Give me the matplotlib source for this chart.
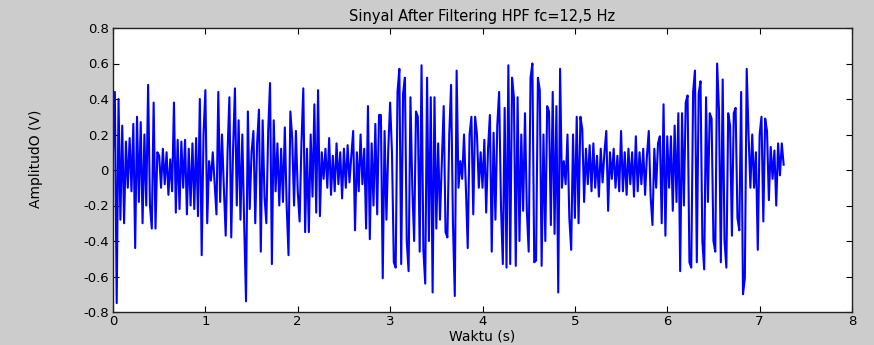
import numpy as np
import matplotlib
matplotlib.use("Agg")
import matplotlib.pyplot as plt
from matplotlib import font_manager

# ---- data (50 Hz samples) ----
dt = 0.02
amp_0 = [0.10, 0.44, -0.75, 0.40, -0.28, 0.25, -0.30, 0.16, -0.10, 0.18,
         -0.12, 0.26, -0.44, 0.30, -0.18, 0.27, -0.30, 0.20, -0.20, 0.48,
         -0.20, -0.33, 0.38, -0.33, 0.10]
amp_1 = [0.08, -0.10, 0.12, -0.08, 0.10, -0.14, 0.06, -0.12, 0.38, -0.24,
         0.17, -0.22, 0.16, -0.10, 0.17, -0.25, 0.12, -0.20, 0.15, -0.22,
         0.18, -0.26, 0.40, -0.48, 0.20]
amp_2 = [0.45, -0.30, 0.05, -0.06, 0.10, -0.08, -0.25, 0.44, -0.18, 0.20,
         -0.10, -0.37, 0.10, 0.41, -0.38, 0.12, 0.46, -0.20, 0.28, -0.28,
         0.20, -0.30, -0.74, 0.33, -0.22]
amp_3 = [0.10, 0.22, -0.30, 0.15, 0.34, -0.46, 0.28, -0.15, -0.30, 0.22,
         0.49, -0.53, 0.28, -0.12, 0.15, -0.20, 0.12, -0.18, 0.24, -0.20,
         -0.48, 0.33, 0.18, -0.20, 0.22]
amp_4 = [-0.12, -0.29, 0.15, 0.46, -0.35, 0.12, -0.35, 0.20, -0.15, 0.37,
         -0.24, 0.45, -0.26, 0.10, -0.05, 0.12, -0.10, 0.18, -0.14, 0.08,
         -0.12, 0.15, -0.08, 0.10, -0.16]
amp_5 = [0.12, -0.10, 0.14, -0.07, 0.08, 0.22, -0.34, 0.10, -0.12, 0.20,
         -0.08, 0.12, -0.33, 0.36, -0.39, 0.15, -0.20, 0.26, -0.25, 0.31,
         0.31, -0.61, 0.22, -0.28, 0.12]
amp_6 = [0.38, 0.10, -0.52, -0.55, 0.44, 0.57, -0.53, 0.43, 0.52, -0.40,
         -0.57, 0.41, -0.10, -0.40, 0.33, 0.30, -0.46, 0.59, -0.45, -0.64,
         0.52, -0.40, 0.41, -0.69, 0.41]
amp_7 = [-0.33, 0.15, -0.28, 0.05, 0.36, -0.35, -0.38, 0.20, 0.48, -0.30,
         -0.71, 0.56, -0.10, 0.05, -0.05, 0.20, -0.10, -0.44, 0.20, 0.30,
         -0.25, 0.30, 0.20, -0.10, 0.10]
amp_8 = [-0.10, 0.17, -0.24, 0.12, 0.31, -0.46, 0.21, -0.28, 0.25, 0.44,
         -0.20, -0.53, 0.35, -0.55, 0.59, -0.53, 0.52, 0.41, -0.54, 0.41,
         -0.40, 0.20, -0.23, 0.32, -0.23]
amp_9 = [-0.46, 0.52, 0.60, -0.52, -0.51, 0.52, 0.45, -0.54, 0.20, -0.40,
         0.36, 0.33, -0.31, 0.44, -0.36, 0.36, -0.69, 0.57, -0.10, 0.05,
         -0.08, 0.20, -0.27, -0.45, 0.20]
amp_10 = [-0.27, 0.30, -0.30, 0.30, 0.23, -0.18, 0.12, -0.08, 0.14, -0.12,
          0.15, -0.10, 0.08, -0.15, 0.12, -0.07, 0.10, 0.22, -0.23, 0.10,
          -0.05, 0.12, -0.10, 0.08, -0.12]
amp_11 = [0.22, -0.12, 0.10, -0.14, 0.12, -0.08, 0.10, -0.15, 0.19, -0.12,
          0.10, -0.08, 0.12, -0.14, 0.08, 0.22, -0.15, -0.31, 0.12, -0.10,
          0.15, 0.19, -0.30, 0.37, -0.37]
amp_12 = [0.19, -0.10, 0.19, -0.23, 0.25, -0.18, 0.32, -0.57, 0.32, -0.20,
          0.38, 0.42, -0.52, -0.55, 0.44, 0.56, -0.52, 0.43, 0.50, -0.40,
          -0.56, 0.41, -0.18, 0.32, 0.29]
amp_13 = [-0.40, -0.46, 0.60, 0.34, -0.52, 0.51, -0.40, -0.55, 0.32, 0.25,
          -0.37, 0.32, 0.35, -0.27, -0.34, 0.44, -0.70, -0.61, 0.57, 0.20,
          -0.10, 0.20, -0.10, 0.10, -0.45]
amp_14 = [0.20, 0.30, -0.29, 0.29, 0.22, -0.17, 0.13, -0.05, 0.11, -0.20,
          0.15, -0.03, 0.15, 0.03]

amplitude = np.array(amp_0 + amp_1 + amp_2 + amp_3 + amp_4 + amp_5 + amp_6 +
                     amp_7 + amp_8 + amp_9 + amp_10 + amp_11 + amp_12 +
                     amp_13 + amp_14)
waktu = np.arange(len(amplitude)) * dt

x_ticks = [0, 1, 2, 3, 4, 5, 6, 7, 8]
y_ticks = [-0.8, -0.6, -0.4, -0.2, 0, 0.2, 0.4, 0.6, 0.8]
y_tick_labels = ["-0.8", "-0.6", "-0.4", "-0.2", "0", "0.2", "0.4", "0.6", "0.8"]

title_text = "Sinyal After Filtering HPF fc=12,5 Hz"
xlabel_text = "Waktu (s)"
ylabel_text = "AmplitudO (V)"

# ---- figure ----
names = {f.name for f in font_manager.fontManager.ttflist}
narrow = "Liberation Sans Narrow" if "Liberation Sans Narrow" in names else "DejaVu Sans"

fig = plt.figure(figsize=(8.74, 3.45), dpi=100, facecolor="#cccccc")
ax = fig.add_axes([113/874, 33/345, (852-113)/874, (312-28)/345])
ax.set_facecolor("white")
ax.plot(waktu, amplitude, color=(0, 0, 1), lw=1.5)

ax.set_xlim(0, 8)
ax.set_ylim(-0.8, 0.8)
ax.set_xticks(x_ticks)
ax.set_yticks(y_ticks)
ax.set_yticklabels(y_tick_labels)
ax.tick_params(direction="in", length=4, width=0.8, top=True, right=True,
               labelsize=9.5, pad=3, colors="black")
ax.tick_params(axis="x", pad=2)
for s in ax.spines.values():
    s.set_linewidth(1.0)
    s.set_color("#222222")

ax.set_title(title_text, fontsize=10.5, pad=5, family="DejaVu Sans")
ax.set_xlabel(xlabel_text, fontsize=10, va="center")
ax.xaxis.set_label_coords(0.5, -0.088)
ax.set_ylabel(ylabel_text, fontsize=10, family=narrow)
ax.yaxis.set_label_coords(-0.095, 0.54)

fig.savefig("out.png", dpi=100, facecolor=fig.get_facecolor())
